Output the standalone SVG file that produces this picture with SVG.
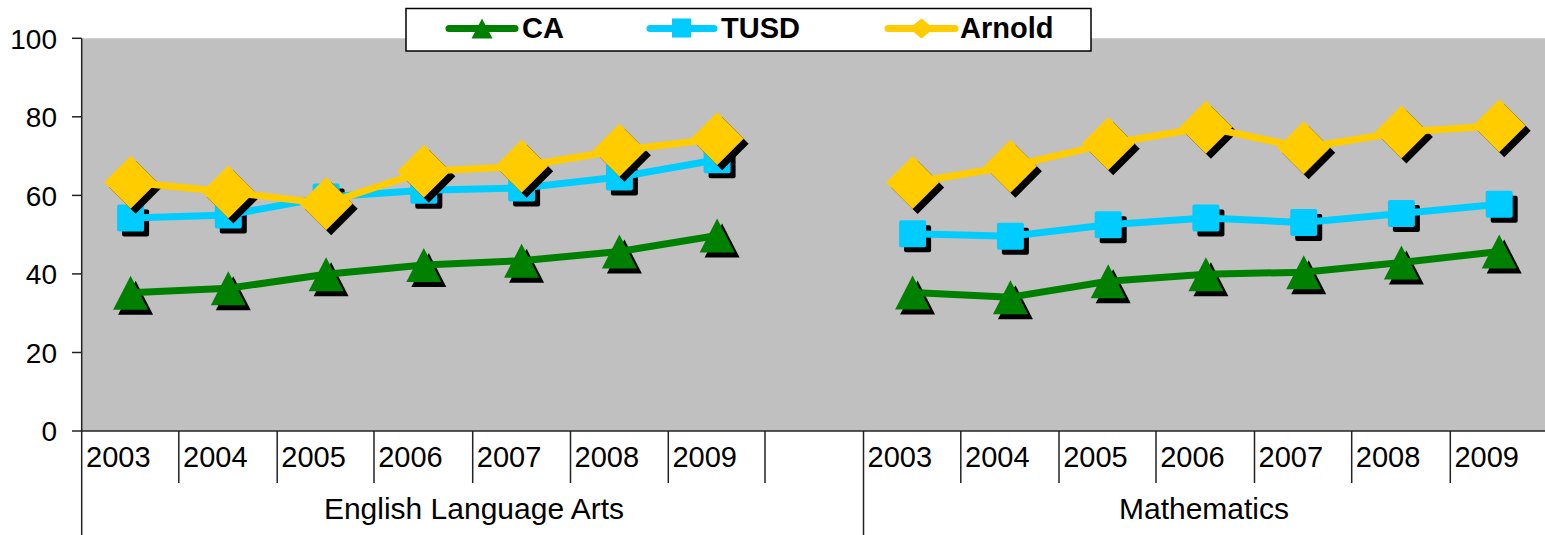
<svg xmlns="http://www.w3.org/2000/svg" xmlns:xlink="http://www.w3.org/1999/xlink" width="1545" height="535" viewBox="0 0 1545 535">
<style>
.lbl{font-family:"Liberation Sans",Arial,sans-serif;font-size:28px;fill:#000}
.yr{font-family:"Liberation Sans",Arial,sans-serif;font-size:29px;fill:#000}
.grp{font-family:"Liberation Sans",Arial,sans-serif;font-size:30px;fill:#000}
.leg{font-family:"Liberation Sans",Arial,sans-serif;font-size:29px;font-weight:bold;fill:#000}
.axis{stroke:#222;stroke-width:1.5;fill:none}
.ca{stroke:#008000;stroke-width:7;fill:none;stroke-linejoin:round}
.tusd{stroke:#00CCFF;stroke-width:7;fill:none;stroke-linejoin:round}
.arn{stroke:#FFCC00;stroke-width:7;fill:none;stroke-linejoin:round}
.sh{fill:#000}
</style>
<defs>
<polygon id="tri" points="0,-17 17.5,17 -17.5,17"/>
<rect id="sq" x="-13.5" y="-13.5" width="27" height="27" rx="2"/>
<polygon id="dia" points="0,-26.5 26.5,0 0,26.5 -26.5,0"/>
</defs>
<rect x="0" y="0" width="1545" height="535" fill="#fff"/>
<g id="plot-area">
<rect x="81.7" y="38.3" width="1465" height="392.7" fill="#C0C0C0"/>
</g>
<g id="axes">
<line class="axis" x1="81.7" y1="38.3" x2="81.7" y2="535"/>
<line class="axis" x1="81.7" y1="431" x2="1545" y2="431"/>
<g class="axis">
<line x1="72" y1="38.3" x2="81.7" y2="38.3"/>
<line x1="72" y1="116.8" x2="81.7" y2="116.8"/>
<line x1="72" y1="195.4" x2="81.7" y2="195.4"/>
<line x1="72" y1="273.9" x2="81.7" y2="273.9"/>
<line x1="72" y1="352.5" x2="81.7" y2="352.5"/>
<line x1="72" y1="431" x2="81.7" y2="431"/>
<line x1="178.8" y1="431" x2="178.8" y2="483"/>
<line x1="277.2" y1="431" x2="277.2" y2="483"/>
<line x1="374" y1="431" x2="374" y2="483"/>
<line x1="472.7" y1="431" x2="472.7" y2="483"/>
<line x1="570.5" y1="431" x2="570.5" y2="483"/>
<line x1="668.3" y1="431" x2="668.3" y2="483"/>
<line x1="765" y1="431" x2="765" y2="483"/>
<line x1="863.5" y1="431" x2="863.5" y2="535"/>
<line x1="960.8" y1="431" x2="960.8" y2="483"/>
<line x1="1059" y1="431" x2="1059" y2="483"/>
<line x1="1156" y1="431" x2="1156" y2="483"/>
<line x1="1254.5" y1="431" x2="1254.5" y2="483"/>
<line x1="1351.7" y1="431" x2="1351.7" y2="483"/>
<line x1="1450.3" y1="431" x2="1450.3" y2="483"/>
</g>
<g class="lbl" text-anchor="end">
<text x="57" y="48.5">100</text>
<text x="57" y="127">80</text>
<text x="57" y="205.5">60</text>
<text x="57" y="284">40</text>
<text x="57" y="362.5">20</text>
<text x="57" y="440.5">0</text>
</g>
<g class="yr">
<text x="86" y="467">2003</text>
<text x="183" y="467">2004</text>
<text x="281.3" y="467">2005</text>
<text x="378.2" y="467">2006</text>
<text x="476.8" y="467">2007</text>
<text x="574.6" y="467">2008</text>
<text x="672.4" y="467">2009</text>
<text x="867.6" y="467">2003</text>
<text x="965" y="467">2004</text>
<text x="1063.2" y="467">2005</text>
<text x="1160.2" y="467">2006</text>
<text x="1258.6" y="467">2007</text>
<text x="1355.8" y="467">2008</text>
<text x="1454.4" y="467">2009</text>
</g>
<g class="grp" text-anchor="middle">
<text x="474" y="518.5">English Language Arts</text>
<text x="1204" y="518.5">Mathematics</text>
</g>
</g>
<g id="connectors">
<g id="series-CA">
<g class="sh">
<use xlink:href="#tri" x="135.6" y="297.8"/><use xlink:href="#tri" x="233.3" y="293.3"/><use xlink:href="#tri" x="331.1" y="279.2"/><use xlink:href="#tri" x="428.8" y="270"/><use xlink:href="#tri" x="526.6" y="265.7"/><use xlink:href="#tri" x="624.4" y="256.5"/><use xlink:href="#tri" x="722.1" y="240.5"/>
<use xlink:href="#tri" x="917.6" y="297.5"/><use xlink:href="#tri" x="1015.4" y="302.2"/><use xlink:href="#tri" x="1113.2" y="286.2"/><use xlink:href="#tri" x="1210.9" y="279.2"/><use xlink:href="#tri" x="1308.7" y="277.2"/><use xlink:href="#tri" x="1406.4" y="267.5"/><use xlink:href="#tri" x="1504.2" y="256.5"/>
</g>
<polyline class="ca" points="130.6,292.8 228.3,288.3 326.1,274.2 423.8,265 521.6,260.7 619.4,251.5 717.1,235.5"/>
<polyline class="ca" points="912.6,292.5 1010.4,297.2 1108.2,281.2 1205.9,274.2 1303.7,272.2 1401.4,262.5 1499.2,251.5"/>
<g fill="#008000">
<use xlink:href="#tri" x="130.6" y="292.8"/><use xlink:href="#tri" x="228.3" y="288.3"/><use xlink:href="#tri" x="326.1" y="274.2"/><use xlink:href="#tri" x="423.8" y="265"/><use xlink:href="#tri" x="521.6" y="260.7"/><use xlink:href="#tri" x="619.4" y="251.5"/><use xlink:href="#tri" x="717.1" y="235.5"/>
<use xlink:href="#tri" x="912.6" y="292.5"/><use xlink:href="#tri" x="1010.4" y="297.2"/><use xlink:href="#tri" x="1108.2" y="281.2"/><use xlink:href="#tri" x="1205.9" y="274.2"/><use xlink:href="#tri" x="1303.7" y="272.2"/><use xlink:href="#tri" x="1401.4" y="262.5"/><use xlink:href="#tri" x="1499.2" y="251.5"/>
</g>
</g>
<g id="series-TUSD">
<g class="sh">
<use xlink:href="#sq" x="135.6" y="223"/><use xlink:href="#sq" x="233.3" y="220"/><use xlink:href="#sq" x="331.1" y="202"/><use xlink:href="#sq" x="428.8" y="195.3"/><use xlink:href="#sq" x="526.6" y="193"/><use xlink:href="#sq" x="624.4" y="182"/><use xlink:href="#sq" x="722.1" y="164.7"/>
<use xlink:href="#sq" x="917.6" y="238.8"/><use xlink:href="#sq" x="1015.4" y="241.2"/><use xlink:href="#sq" x="1113.2" y="229.7"/><use xlink:href="#sq" x="1210.9" y="223"/><use xlink:href="#sq" x="1308.7" y="227.5"/><use xlink:href="#sq" x="1406.4" y="218.5"/><use xlink:href="#sq" x="1504.2" y="209.2"/>
</g>
<polyline class="tusd" points="130.6,218 228.3,215 326.1,197 423.8,190.3 521.6,188 619.4,177 717.1,159.7"/>
<polyline class="tusd" points="912.6,233.8 1010.4,236.2 1108.2,224.7 1205.9,218 1303.7,222.5 1401.4,213.5 1499.2,204.2"/>
<g fill="#00CCFF">
<use xlink:href="#sq" x="130.6" y="218"/><use xlink:href="#sq" x="228.3" y="215"/><use xlink:href="#sq" x="326.1" y="197"/><use xlink:href="#sq" x="423.8" y="190.3"/><use xlink:href="#sq" x="521.6" y="188"/><use xlink:href="#sq" x="619.4" y="177"/><use xlink:href="#sq" x="717.1" y="159.7"/>
<use xlink:href="#sq" x="912.6" y="233.8"/><use xlink:href="#sq" x="1010.4" y="236.2"/><use xlink:href="#sq" x="1108.2" y="224.7"/><use xlink:href="#sq" x="1205.9" y="218"/><use xlink:href="#sq" x="1303.7" y="222.5"/><use xlink:href="#sq" x="1401.4" y="213.5"/><use xlink:href="#sq" x="1499.2" y="204.2"/>
</g>
</g>
<g id="series-Arnold">
<g class="sh">
<use xlink:href="#dia" x="135.6" y="187.3"/><use xlink:href="#dia" x="233.3" y="197"/><use xlink:href="#dia" x="331.1" y="208.7"/><use xlink:href="#dia" x="428.8" y="176.2"/><use xlink:href="#dia" x="526.6" y="171.3"/><use xlink:href="#dia" x="624.4" y="155.3"/><use xlink:href="#dia" x="722.1" y="143.8"/>
<use xlink:href="#dia" x="917.6" y="187.5"/><use xlink:href="#dia" x="1015.4" y="171.3"/><use xlink:href="#dia" x="1113.2" y="148.7"/><use xlink:href="#dia" x="1210.9" y="132.2"/><use xlink:href="#dia" x="1308.7" y="152.8"/><use xlink:href="#dia" x="1406.4" y="137"/><use xlink:href="#dia" x="1504.2" y="130.8"/>
</g>
<polyline class="arn" points="130.6,182.3 228.3,192 326.1,203.7 423.8,171.2 521.6,166.3 619.4,150.3 717.1,138.8"/>
<polyline class="arn" points="912.6,182.5 1010.4,166.3 1108.2,143.7 1205.9,127.2 1303.7,147.8 1401.4,132 1499.2,125.8"/>
<g fill="#FFCC00">
<use xlink:href="#dia" x="130.6" y="182.3"/><use xlink:href="#dia" x="228.3" y="192"/><use xlink:href="#dia" x="326.1" y="203.7"/><use xlink:href="#dia" x="423.8" y="171.2"/><use xlink:href="#dia" x="521.6" y="166.3"/><use xlink:href="#dia" x="619.4" y="150.3"/><use xlink:href="#dia" x="717.1" y="138.8"/>
<use xlink:href="#dia" x="912.6" y="182.5"/><use xlink:href="#dia" x="1010.4" y="166.3"/><use xlink:href="#dia" x="1108.2" y="143.7"/><use xlink:href="#dia" x="1205.9" y="127.2"/><use xlink:href="#dia" x="1303.7" y="147.8"/><use xlink:href="#dia" x="1401.4" y="132"/><use xlink:href="#dia" x="1499.2" y="125.8"/>
</g>
</g>
</g>
<g id="legend">
<rect x="406" y="8.5" width="685" height="42.5" fill="#fff" stroke="#000" stroke-width="1.5"/>
<line x1="449" y1="28.5" x2="515" y2="28.5" stroke="#008000" stroke-width="7" stroke-linecap="round"/>
<polygon points="482,18.5 492.5,38.5 471.5,38.5" fill="#008000"/>
<text class="leg" x="522" y="38.3">CA</text>
<line x1="650" y1="28.5" x2="714" y2="28.5" stroke="#00CCFF" stroke-width="7" stroke-linecap="round"/>
<rect x="672" y="18.5" width="19" height="19" fill="#00CCFF"/>
<text class="leg" x="721" y="38.3">TUSD</text>
<line x1="888" y1="28.5" x2="955" y2="28.5" stroke="#FFCC00" stroke-width="7" stroke-linecap="round"/>
<polygon points="921.5,18.5 934,28.5 921.5,38.5 909,28.5" fill="#FFCC00"/>
<text class="leg" x="960" y="38.3">Arnold</text>
</g>
</svg>
